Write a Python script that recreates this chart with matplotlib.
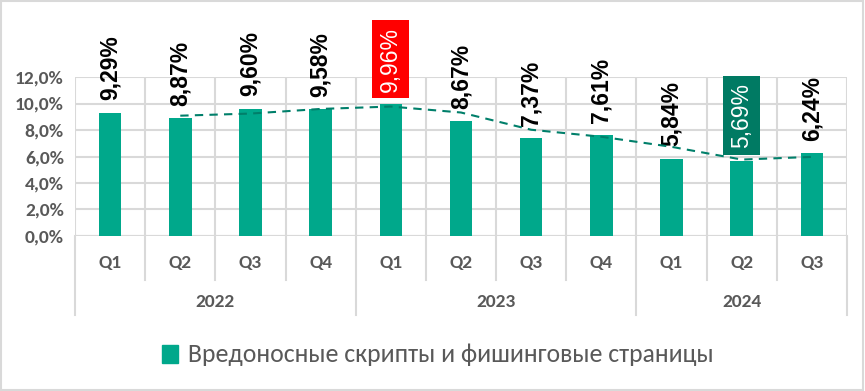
import matplotlib
matplotlib.use("Agg")
import matplotlib.pyplot as plt
from matplotlib import font_manager
from matplotlib.patches import Rectangle
from matplotlib.lines import Line2D

quarters = ["Q1", "Q2", "Q3", "Q4", "Q1", "Q2", "Q3", "Q4", "Q1", "Q2", "Q3"]
years = ["2022", "2023", "2024"]
year_sizes = [4, 4, 3]
values = [9.29, 8.87, 9.60, 9.58, 9.96, 8.67, 7.37, 7.61, 5.84, 5.69, 6.24]
# dashed trend line (starts at 2022 Q2)
trend = [9.08, 9.24, 9.59, 9.77, 9.32, 8.02, 7.49, 6.73, 5.77, 5.97]
highlight = {4: "#FF0000", 9: "#007A63"}
legend_label = "Вредоносные скрипты и фишинговые страницы"

names = {f.name for f in font_manager.fontManager.ttflist}
def pick(cands):
    for c in cands:
        if c in names:
            return c
    return "DejaVu Sans"

narrow = pick(["Carlito", "Liberation Sans Narrow", "Roboto Condensed", "PT Sans Narrow",
               "Open Sans Condensed", "Asap Condensed", "DejaVu Sans"])
arial = pick(["Liberation Sans", "Arimo", "DejaVu Sans"])

bar_col = "#00A88B"
grey = "#595959"
grid_col = "#D9D9D9"

fig = plt.figure(figsize=(8.65, 3.91), dpi=100)
fig.patches.append(Rectangle((0.001, 0.002), 0.997, 0.995, transform=fig.transFigure,
                             fill=False, edgecolor=grid_col, lw=1.5))
ax = fig.add_axes([75 / 865, 1 - 236 / 391, 772 / 865, 159 / 391])

x = list(range(len(values)))
ax.bar(x, values, width=0.32, color=bar_col, zorder=3)
ax.plot(x[1:], trend, ls=(0, (4, 3)), color="#007F6A", lw=1.5, zorder=4)

ax.set_xlim(-0.5, len(values) - 0.5)
ax.set_ylim(0, 12)
ax.set_yticks(range(0, 13, 2))
ax.set_yticklabels([f"{v},0%" for v in range(0, 13, 2)], fontfamily=narrow,
                   fontweight="bold", fontsize=14, color=grey)
ax.tick_params(axis="y", length=0, pad=8)
ax.set_xticks([])
ax.grid(axis="y", color=grid_col, lw=1.5, zorder=0)
for b in range(len(values) + 1):
    ax.axvline(b - 0.5, color=grid_col, lw=1.5, zorder=0)
for s in ax.spines.values():
    s.set_visible(False)
ax.axhline(0, color=grid_col, lw=1.5, zorder=1)

# value labels
for i, v in enumerate(values):
    lab = f"{v:.2f}%".replace(".", ",")
    if i in highlight:
        ax.annotate(lab, (i, v), xytext=(0, 9), textcoords="offset points",
                    rotation=90, ha="center", va="bottom", fontsize=16.5, color="white",
                    fontfamily=arial, annotation_clip=False,
                    bbox=dict(boxstyle="square,pad=0.3", fc=highlight[i], ec="none"))
    else:
        ax.annotate(lab, (i, v), xytext=(0, 9), textcoords="offset points",
                    rotation=90, ha="center", va="bottom", fontsize=16.5, color="black",
                    fontweight="bold", fontfamily=arial, annotation_clip=False)

# two-level category axis
tr = ax.get_xaxis_transform()
for i, q in enumerate(quarters):
    ax.text(i, -27 / 159, q, transform=tr, ha="center", va="center",
            fontfamily=narrow, fontweight="bold", fontsize=14, color=grey)
start = 0
bounds = [-0.5]
for y, n in zip(years, year_sizes):
    ax.text(start + (n - 1) / 2, -66 / 159, y, transform=tr, ha="center", va="center",
            fontfamily=narrow, fontweight="bold", fontsize=14, color=grey)
    start += n
    bounds.append(start - 0.5)
for b in range(len(values) + 1):
    xb = b - 0.5
    low = -79 / 159 if xb in bounds else -44 / 159
    ax.add_line(Line2D([xb, xb], [0, low], transform=tr, color=grid_col, lw=1.5,
                       clip_on=False))

handle = Rectangle((0, 0), 1, 1, color=bar_col)
fig.legend([handle], [legend_label], loc="center", bbox_to_anchor=(438 / 865, 1 - 355 / 391),
           frameon=False, prop={"family": narrow, "size": 18.5}, labelcolor=grey,
           handlelength=0.6, handleheight=0.7, handletextpad=0.4)

fig.savefig("out.png", dpi=100)
